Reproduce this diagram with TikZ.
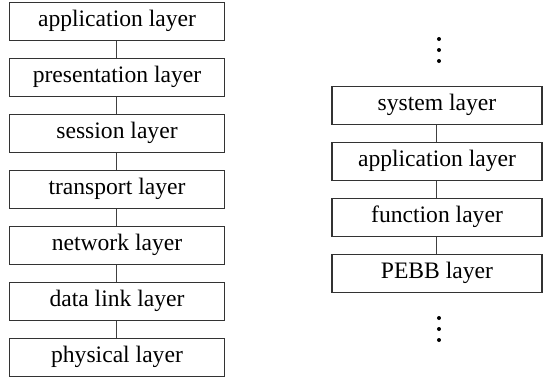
\documentclass[tikz,border=0pt]{standalone}
\usepackage{fontspec}
\setmainfont{Liberation Serif}
\newfontfamily\layerfont{Liberation Serif}
\usetikzlibrary{positioning}

\begin{document}
\begin{tikzpicture}[x=0.5pt, y=-0.5pt,
    layerbox/.style={draw=black!80, line width=0.6pt, minimum width=107.5pt, minimum height=18.75pt, inner sep=0pt, text depth=0.18em, text height=0.72em, font=\layerfont\fontsize{11.8}{13}\selectfont},
    link/.style={draw=black!75, line width=0.5pt},
    dot/.style={circle, fill=black, inner sep=0pt, minimum size=2pt}]
    \useasboundingbox (0,0) rectangle (543,377);

    % OSI stack
    \foreach \i/\txt in {0/application, 1/presentation, 2/session, 3/transport, 4/network, 5/data link, 6/physical} {
        \node[layerbox] (osi\i) at (117, 21.4+\i*56) {\txt\ layer};
    }
    \foreach \i/\j in {0/1, 1/2, 2/3, 3/4, 4/5, 5/6} {
        \draw[link] (osi\i) -- (osi\j);
    }

    % PEBB stack
    \foreach \i/\txt in {0/system, 1/application, 2/function, 3/PEBB} {
        \node[layerbox, minimum width=105pt] (pebb\i) at (437, 105.5+\i*56) {\txt\ layer};
    }
    \foreach \i/\j in {0/1, 1/2, 2/3} {
        \draw[link] (pebb\i) -- (pebb\j);
    }

    % Dots
    \foreach \k/\y in {1/39, 2/50, 3/61} {
        \node[dot] (dtop\k) at (439, \y) {};
    }
    \foreach \k/\y in {1/318, 2/329, 3/340} {
        \node[dot] (dbot\k) at (439, \y) {};
    }
\end{tikzpicture}
\end{document}
